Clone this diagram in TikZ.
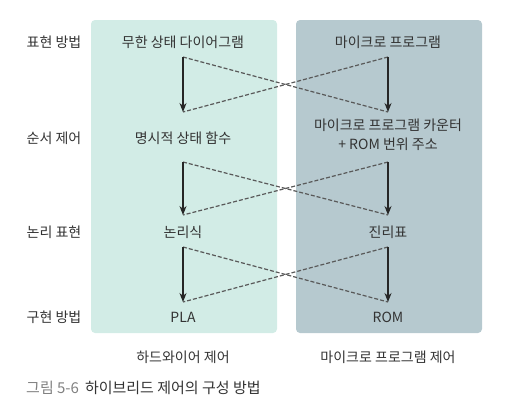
\documentclass[tikz,border=0pt]{standalone}
\usepackage{fontspec}
\setmainfont{Noto Sans CJK KR}
\usepackage{tikz}
\usetikzlibrary{arrows.meta}
\usetikzlibrary{positioning}
\definecolor{hwcol}{HTML}{D2ECE6}
\definecolor{mpcol}{HTML}{B6C9CF}
\definecolor{txtcol}{HTML}{333333}
\tikzstyle{panel} = [rectangle, rounded corners=4pt, draw=none]
\tikzstyle{rowlabel} = [text=txtcol, font=\fontsize{14pt}{19pt}\selectfont, inner sep=0pt]
\tikzstyle{item} = [text=txtcol, font=\fontsize{14pt}{19pt}\selectfont, inner sep=0pt, align=center]
\tikzstyle{flow} = [-{Stealth[length=9pt,width=7pt]}, line width=1.2pt, draw=black!85]
\tikzstyle{cross} = [line width=1.2pt, draw=black!65, dash pattern=on 4pt off 2pt]

\begin{document}
\begin{tikzpicture}[x=1pt, y=-1pt]
\useasboundingbox (0,0) rectangle (513,407);

% panels
\fill[hwcol, panel] (91,20) rectangle (277,333);
\fill[mpcol, panel] (296,20) rectangle (482,333);

% row labels
\node (r1) [rowlabel] at (54,42) {표현 방법};
\node (r2) [rowlabel] at (54,138) {순서 제어};
\node (r3) [rowlabel] at (54,232) {논리 표현};
\node (r4) [rowlabel] at (54,317) {구현 방법};

% hardwired column
\node (hw1) [item] at (183,42) {무한 상태 다이어그램};
\node (hw2) [item] at (183,138) {명시적 상태 함수};
\node (hw3) [item] at (183,232) {논리식};
\node (hw4) [item] at (183,317) {PLA};

% microprogram column
\node (mp1) [item] at (388,42) {마이크로 프로그램};
\node (mp2) [item] at (388,135) {마이크로 프로그램 카운터\\+ ROM 번위 주소};
\node (mp3) [item] at (388,232) {진리표};
\node (mp4) [item] at (388,317) {ROM};

% column titles
\node (hwt) [item] at (183,357) {하드와이어 제어};
\node (mpt) [item] at (388,357) {마이크로 프로그램 제어};

% caption
\node (cap) [rowlabel, anchor=west, font=\fontsize{15pt}{17pt}\selectfont] at (26,388) {\textcolor{black!50}{그림 5-6}\hspace{6pt}\textcolor{black!80}{하이브리드 제어의 구성 방법}};

% arrow ends
\coordinate (a1) at (183,57);  \coordinate (b1) at (388,57);
\coordinate (a2) at (183,112); \coordinate (b2) at (388,112);
\coordinate (a3) at (183,162); \coordinate (b3) at (388,162);
\coordinate (a4) at (183,215); \coordinate (b4) at (388,215);
\coordinate (a5) at (183,247); \coordinate (b5) at (388,247);
\coordinate (a6) at (183,302); \coordinate (b6) at (388,302);

\foreach \s/\e in {1/2,3/4,5/6}{
  \draw[cross] (a\s) -- (b\e);
  \draw[cross] (b\s) -- (a\e);
  \draw[flow] (a\s) -- (a\e);
  \draw[flow] (b\s) -- (b\e);
}
\end{tikzpicture}
\end{document}
